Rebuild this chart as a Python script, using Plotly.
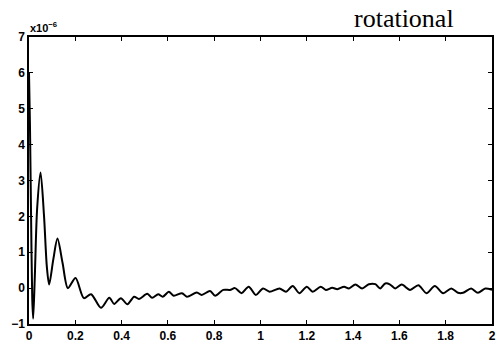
import plotly.graph_objects as go

# frequency-like axis values and response (units of 1e-6)
x_vals = [0.0, 0.004, 0.009, 0.014, 0.018, 0.025, 0.035, 0.05, 0.065, 0.077, 0.087,
          0.105, 0.123, 0.145, 0.168, 0.201, 0.237, 0.268, 0.311, 0.347, 0.368,
          0.397, 0.425, 0.454, 0.475, 0.511, 0.532, 0.558, 0.578, 0.604, 0.625,
          0.661, 0.682, 0.725, 0.746, 0.782, 0.804, 0.839, 0.868, 0.890, 0.918,
          0.949, 0.980, 1.011, 1.039, 1.082, 1.110, 1.139, 1.168, 1.200, 1.225,
          1.260, 1.282, 1.310, 1.332, 1.361, 1.382, 1.410, 1.439, 1.468, 1.496,
          1.517, 1.539, 1.560, 1.582, 1.610, 1.646, 1.682, 1.717, 1.753, 1.789,
          1.824, 1.853, 1.875, 1.910, 1.939, 1.971, 2.0]
y_vals = [6.0, 4.6, 2.0, -0.3, -0.85, 0.3, 2.2, 3.22, 2.0, 0.6, 0.10,
          0.8, 1.38, 0.7, 0.0, 0.28, -0.28, -0.17, -0.55, -0.27, -0.44,
          -0.28, -0.45, -0.24, -0.30, -0.16, -0.27, -0.17, -0.24, -0.10, -0.21,
          -0.14, -0.24, -0.12, -0.19, -0.08, -0.21, -0.05, -0.05, 0.0, -0.14,
          0.04, -0.19, -0.01, -0.10, -0.01, -0.10, 0.06, -0.14, 0.04, -0.10,
          0.04, -0.05, 0.01, -0.03, 0.04, -0.01, 0.10, -0.01, 0.11, 0.11,
          -0.01, 0.13, 0.10, -0.01, 0.10, -0.05, 0.08, -0.14, 0.06, -0.14,
          -0.01, -0.13, -0.13, -0.01, -0.13, -0.01, -0.05]

x_ticks = [0, 0.2, 0.4, 0.6, 0.8, 1, 1.2, 1.4, 1.6, 1.8, 2]
x_tick_text = ["0", "0.2", "0.4", "0.6", "0.8", "1", "1.2", "1.4", "1.6", "1.8", "2"]
y_ticks = [-1, 0, 1, 2, 3, 4, 5, 6, 7]
y_tick_text = ["\u22121", "0", "1", "2", "3", "4", "5", "6", "7"]

fig = go.Figure()
fig.add_trace(go.Scatter(
    x=x_vals, y=y_vals, mode="lines",
    line=dict(color="black", width=2, shape="spline", smoothing=0.8),
    showlegend=False, hoverinfo="skip",
))

tickfont = dict(family="Liberation Sans, Arial, sans-serif", size=12, color="black", weight="bold")

fig.update_xaxes(
    range=[0, 2], tickvals=x_ticks, ticktext=x_tick_text,
    showline=True, linecolor="black", linewidth=1.5, mirror="ticks",
    ticks="inside", ticklen=4, tickcolor="black", tickwidth=1,
    showgrid=False, zeroline=False, tickfont=tickfont,
)
fig.update_yaxes(
    range=[-1, 7], tickvals=y_ticks, ticktext=y_tick_text,
    showline=True, linecolor="black", linewidth=1.5, mirror="ticks",
    ticks="inside", ticklen=4, tickcolor="black", tickwidth=1,
    showgrid=False, zeroline=False, tickfont=tickfont,
)

fig.add_annotation(
    text="x10<sup>\u22126</sup>", xref="paper", yref="paper",
    x=0.0, y=1.0, xanchor="left", yanchor="bottom", showarrow=False,
    font=dict(family="Liberation Sans, Arial, sans-serif", size=11, color="black", weight="bold"),
    xshift=-1, yshift=1,
)
fig.add_annotation(
    text="rotational", xref="paper", yref="paper",
    x=0.81, y=1.0, xanchor="center", yanchor="bottom", showarrow=False,
    font=dict(family="Liberation Serif, Times New Roman, serif", size=26, color="black"),
    yshift=2,
)

fig.update_layout(
    width=501, height=351,
    margin=dict(l=29, r=5, t=37, b=27),
    paper_bgcolor="white", plot_bgcolor="white",
)

fig.write_html("out.html", config={"displayModeBar": False},
               post_script="document.body.style.margin='0';")
